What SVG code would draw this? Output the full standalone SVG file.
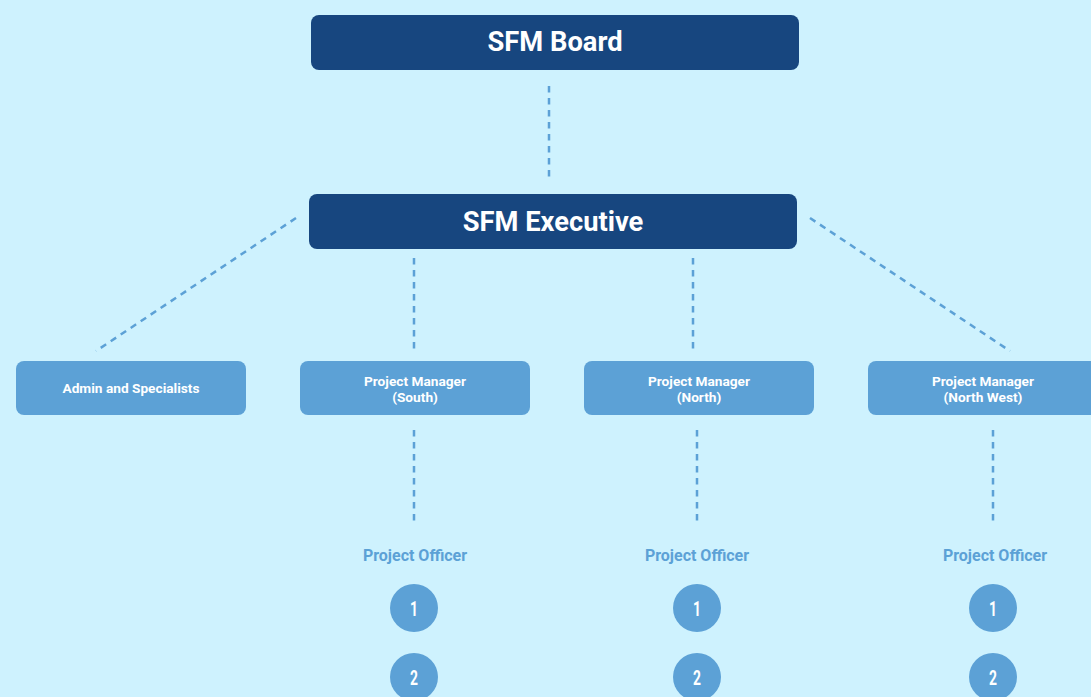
<svg xmlns="http://www.w3.org/2000/svg" width="1091" height="697" viewBox="0 0 1091 697">
  <style>
    .top { fill: #17467f; }
    .mid { fill: #5ca1d6; }
    .top-label { font-family: Roboto, "Liberation Sans", sans-serif; font-weight: 700; font-size: 27.3px; fill: #ffffff; text-anchor: middle; }
    .mid-label { font-family: Roboto, "Liberation Sans", sans-serif; font-weight: 700; font-size: 13.7px; fill: #ffffff; text-anchor: middle; }
    .officer { font-family: Roboto, "Liberation Sans", sans-serif; font-weight: 700; font-size: 16px; fill: #5ca1d6; text-anchor: middle; }
    .num { font-family: Roboto, "Liberation Sans", sans-serif; font-weight: 700; font-size: 21px; fill: #ffffff; text-anchor: middle; }
    .link { stroke: #5ca1d6; stroke-width: 2.5; stroke-dasharray: 6.5 5.5; fill: none; }
  </style>

  <rect width="1091" height="697" fill="#cef2fe"/>

  <!-- dashed links -->
  <g id="connectors">
    <line class="link" x1="549" y1="86" x2="549" y2="178"/>
    <line class="link" x1="296" y1="218" x2="96" y2="351"/>
    <line class="link" x1="810" y1="218" x2="1010" y2="351"/>
    <line class="link" x1="414" y1="258" x2="414" y2="350"/>
    <line class="link" x1="693" y1="258" x2="693" y2="350"/>
    <line class="link" x1="414" y1="430" x2="414" y2="521"/>
    <line class="link" x1="697" y1="430" x2="697" y2="521"/>
    <line class="link" x1="993" y1="430" x2="993" y2="521"/>
  </g>

  <g id="board">
    <rect class="top" x="311" y="15" width="488" height="55" rx="8"/>
    <text class="top-label" x="555" y="51">SFM Board</text>
  </g>

  <g id="executive">
    <rect class="top" x="309" y="194" width="488" height="55" rx="8"/>
    <text class="top-label" x="553" y="231">SFM Executive</text>
  </g>

  <g id="admin">
    <rect class="mid" x="16" y="361" width="230" height="54" rx="8"/>
    <text class="mid-label" x="131" y="393">Admin and Specialists</text>
  </g>

  <g id="pm-south">
    <rect class="mid" x="300" y="361" width="230" height="54" rx="8"/>
    <text class="mid-label" x="415" y="386">Project Manager</text>
    <text class="mid-label" x="415" y="402">(South)</text>
  </g>

  <g id="pm-north">
    <rect class="mid" x="584" y="361" width="230" height="54" rx="8"/>
    <text class="mid-label" x="699" y="386">Project Manager</text>
    <text class="mid-label" x="699" y="402">(North)</text>
  </g>

  <g id="pm-north-west">
    <rect class="mid" x="868" y="361" width="230" height="54" rx="8"/>
    <text class="mid-label" x="983" y="386">Project Manager</text>
    <text class="mid-label" x="983" y="402">(North West)</text>
  </g>

  <g id="officers-south">
    <text class="officer" x="415" y="561">Project Officer</text>
    <circle class="mid" cx="414" cy="608" r="24"/>
    <text class="num" transform="translate(414 616) scale(0.66 1)">1</text>
    <circle class="mid" cx="414" cy="677" r="24"/>
    <text class="num" transform="translate(414 685) scale(0.66 1)">2</text>
  </g>

  <g id="officers-north">
    <text class="officer" x="697" y="561">Project Officer</text>
    <circle class="mid" cx="697" cy="608" r="24"/>
    <text class="num" transform="translate(697 616) scale(0.66 1)">1</text>
    <circle class="mid" cx="697" cy="677" r="24"/>
    <text class="num" transform="translate(697 685) scale(0.66 1)">2</text>
  </g>

  <g id="officers-north-west">
    <text class="officer" x="995" y="561">Project Officer</text>
    <circle class="mid" cx="993" cy="608" r="24"/>
    <text class="num" transform="translate(993 616) scale(0.66 1)">1</text>
    <circle class="mid" cx="993" cy="677" r="24"/>
    <text class="num" transform="translate(993 685) scale(0.66 1)">2</text>
  </g>
</svg>
